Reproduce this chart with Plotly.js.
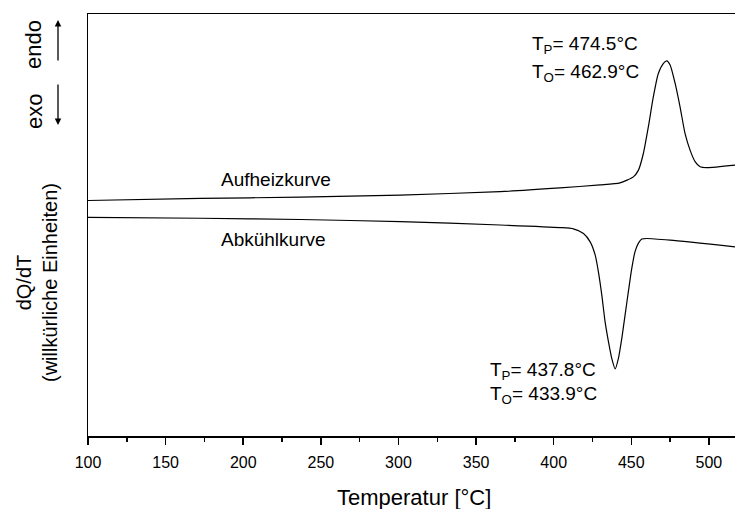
<!DOCTYPE html>
<html>
<head>
<meta charset="utf-8">
<script src="https://cdn.plot.ly/plotly-3.0.1.min.js"></script>
<style>html,body{margin:0;padding:0;background:#fff;}#chart{width:735px;height:509px;}</style>
</head>
<body>
<div id="chart"></div>
<script>
// Heating curve (Aufheizkurve): temperature [°C] and dQ/dT (arbitrary units)
const heatT = [100, 172.5, 236.9, 301.2, 365.5, 404.1, 429.9, 442.7, 451.3, 454.6, 457.8, 461.0, 464.2, 467.4, 470.7, 472.8, 475.0, 478.2, 481.4, 484.6, 487.8, 491.1, 494.3, 498.6, 516.8];
const heatY = [55.8, 56.3, 56.6, 57.1, 57.9, 58.8, 59.5, 60.0, 61.4, 63.0, 67.0, 73.3, 80.4, 85.9, 88.3, 88.9, 87.9, 83.6, 78.0, 71.7, 67.8, 65.0, 63.8, 63.6, 64.2];
// Cooling curve (Abkühlkurve)
const coolT = [100, 172.5, 236.9, 301.2, 365.5, 404.1, 412.7, 419.2, 423.5, 426.7, 428.8, 431.0, 433.1, 435.3, 437.4, 439.6, 441.7, 443.9, 446.0, 448.1, 450.3, 452.4, 454.6, 456.8, 460.0, 475.0, 516.8];
const coolY = [51.8, 51.6, 51.3, 50.8, 50.0, 49.4, 49.1, 48.0, 46.0, 42.9, 38.9, 33.4, 27.1, 22.3, 18.4, 15.9, 18.4, 23.2, 28.7, 34.2, 39.7, 43.7, 45.7, 46.7, 46.8, 46.4, 44.8];
// Axis ticks
const xTickStart = 100, xTickStep = 50, xMinorStep = 25;
const xRange = [100, 516.8];
const yRange = [0, 100];

const FONT = 'Liberation Sans, Arial, Helvetica, sans-serif';
const lineStyle = {color: '#000', width: 1.2, shape: 'spline', smoothing: 0.6};

const traces = [
  {x: heatT, y: heatY, type: 'scatter', mode: 'lines', line: lineStyle, hoverinfo: 'skip', name: 'Aufheizkurve'},
  {x: coolT, y: coolY, type: 'scatter', mode: 'lines', line: lineStyle, hoverinfo: 'skip', name: 'Abkühlkurve'}
];

const W = 647, H = 422, L = 88, T = 14;
const px = v => (v - L) / W;
const py = v => (T + H - v) / H;

function txt(text, x, y, size, opts) {
  return Object.assign({xref: 'paper', yref: 'paper', x: px(x), y: py(y), text: text, showarrow: false,
    xanchor: 'left', yanchor: 'middle', font: {family: FONT, size: size, color: '#000'}}, opts || {});
}

const annotations = [
  txt('Aufheizkurve', 219, 179, 19),
  txt('Abkühlkurve', 219, 239, 19),
  txt('T<sub>P</sub>= 474.5°C', 530, 45, 19),
  txt('T<sub>O</sub>= 462.9°C', 530, 73, 19),
  txt('T<sub>P</sub>= 437.8°C', 488, 371, 19),
  txt('T<sub>O</sub>= 433.9°C', 488, 395, 19),
  txt('Temperatur [°C]', 414, 497, 22, {xanchor: 'center'}),
  txt('dQ/dT<br>(willkürliche Einheiten)', 37, 283, 20, {xanchor: 'center', textangle: -90}),
  txt('endo', 34, 44, 22, {xanchor: 'center', textangle: -90}),
  txt('exo', 34, 111, 22, {xanchor: 'center', textangle: -90}),
  {xref: 'paper', yref: 'paper', x: px(58), y: py(20), text: '', showarrow: true, arrowhead: 2, arrowsize: 1, arrowwidth: 1.3, arrowcolor: '#000', ax: 0, ay: 42},
  {xref: 'paper', yref: 'paper', x: px(58), y: py(125), text: '', showarrow: true, arrowhead: 2, arrowsize: 1, arrowwidth: 1.3, arrowcolor: '#000', ax: 0, ay: -42}
];

const layout = {
  width: 735, height: 509,
  margin: {l: L, r: 0, t: T, b: 509 - T - H},
  paper_bgcolor: '#fff', plot_bgcolor: '#fff',
  showlegend: false,
  font: {family: FONT, color: '#000'},
  xaxis: {
    range: xRange, tick0: xTickStart, dtick: xTickStep,
    ticks: 'outside', ticklen: 7, tickwidth: 1.5, tickcolor: '#000',
    ticklabelstandoff: 4,
    minor: {dtick: xMinorStep, ticks: 'outside', ticklen: 4, tickwidth: 1.5, tickcolor: '#000', showgrid: false},
    showline: true, linewidth: 1.5, linecolor: '#000', mirror: true,
    showgrid: false, zeroline: false,
    tickfont: {family: FONT, size: 16, color: '#000'}
  },
  yaxis: {
    range: yRange, showticklabels: false, ticks: '',
    showline: true, linewidth: 1.5, linecolor: '#000',
    showgrid: false, zeroline: false
  },
  annotations: annotations
};

Plotly.newPlot('chart', traces, layout, {staticPlot: true, displayModeBar: false});
</script>
</body>
</html>
